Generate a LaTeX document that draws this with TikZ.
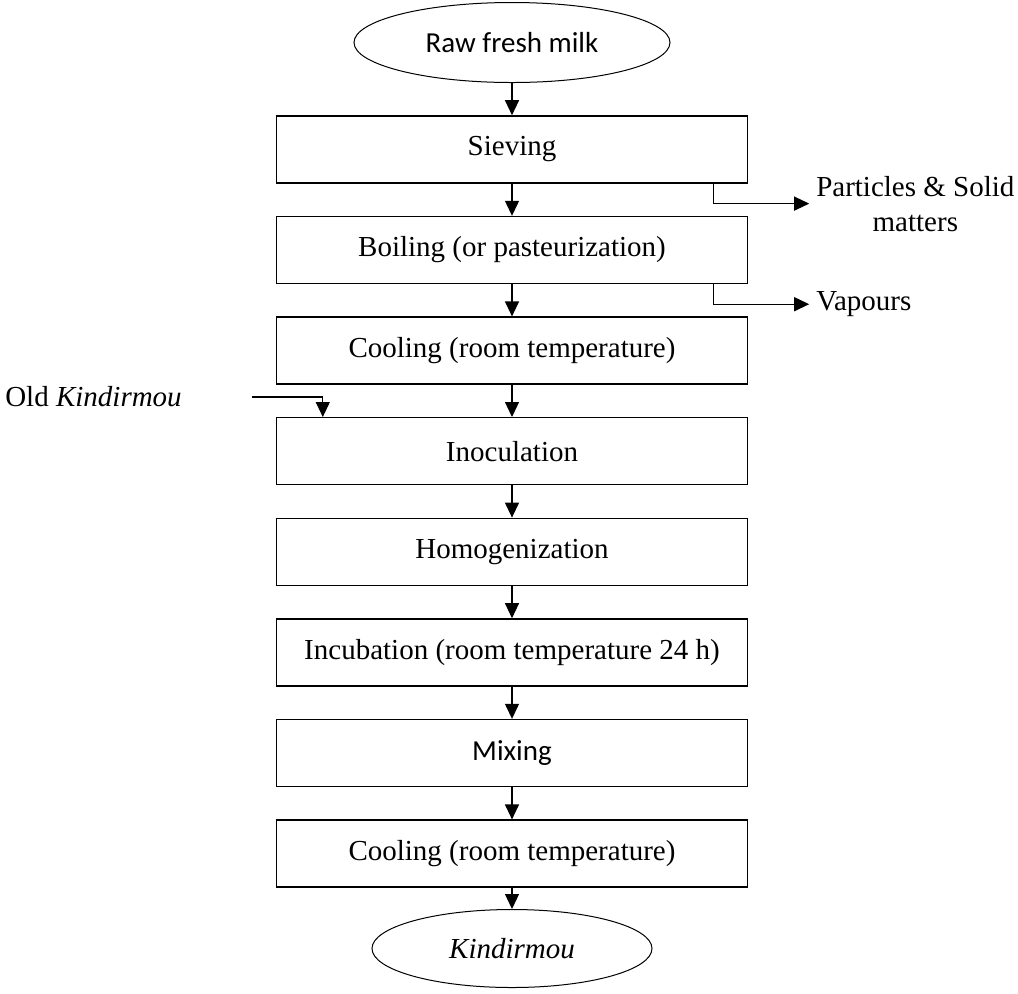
\documentclass[tikz,border=0pt]{standalone}
\usepackage{fontspec}
\setmainfont{Liberation Serif}
\newfontfamily\calibrifont{Carlito}
\usepackage{tikz}
\usetikzlibrary{chains,positioning,shapes.geometric,arrows.meta}
\newcommand{\stepsize}{\fontsize{14.5}{17.5}\selectfont}
\tikzstyle{stepbox}=[draw,line width=0.7pt,minimum width=235.5pt,minimum height=33.5pt,inner sep=0pt]
\tikzstyle{terminal}=[draw,ellipse,line width=0.5pt,inner sep=0pt]
\tikzstyle{flow}=[-{Triangle[length=7.5pt,width=7pt]},line width=0.6pt]
\tikzstyle{outlet}=[align=center,anchor=west]

\begin{document}
\begin{tikzpicture}[x=0.5pt,y=-0.5pt,font=\stepsize]
\useasboundingbox (0,0) rectangle (1018,993);
\begin{scope}[start chain=1 going below, node distance=16.1pt]
    \node [on chain=1,terminal,minimum width=158pt,minimum height=40pt,font=\calibrifont\stepsize] (milk) at (512,42.5) {Raw fresh milk};
    \node [on chain=1,stepbox] (s1) {Sieving};
    \node [on chain=1,stepbox] (s2) {Boiling (or pasteurization)};
    \node [on chain=1,stepbox] (s3) {Cooling (room temperature)};
    \node [on chain=1,stepbox] (s4) {Inoculation};
    \node [on chain=1,stepbox] (s5) {Homogenization};
    \node [on chain=1,stepbox] (s6) {Incubation (room temperature 24 h)};
    \node [on chain=1,stepbox,font=\calibrifont\stepsize] (s7) {Mixing};
    \node [on chain=1,stepbox] (s8) {Cooling (room temperature)};
\end{scope}
\node [terminal,below=10.6pt of s8,minimum width=140pt,minimum height=39pt] (kin) {\textit{Kindirmou}};

% main line
\draw[flow] (milk.south) -- (s1.north);
\foreach \a/\b in {s1/s2,s2/s3,s3/s4,s4/s5,s5/s6,s6/s7,s7/s8}
    \draw[flow] (\a.south) -- (\b.north);
\draw[flow] (s8.south) -- (kin.north);

% side streams
\node [outlet] (solids) at ([xshift=30.5pt,yshift=-10pt]s1.south east) {Particles \& Solid\\matters};
\draw[flow] ([xshift=-17.5pt]s1.south east) |- (solids.west);
\node [outlet] (vapour) at ([xshift=30.5pt,yshift=-10pt]s2.south east) {Vapours};
\draw[flow] ([xshift=-17.5pt]s2.south east) |- (vapour.west);

\coordinate (oldin) at ([xshift=-12pt,yshift=10pt]s4.north west);
\node [left=31.5pt of oldin] (old) {Old \textit{Kindirmou}};
\draw[flow] (oldin) -| ([xshift=23.5pt]s4.north west);
\end{tikzpicture}
\end{document}
